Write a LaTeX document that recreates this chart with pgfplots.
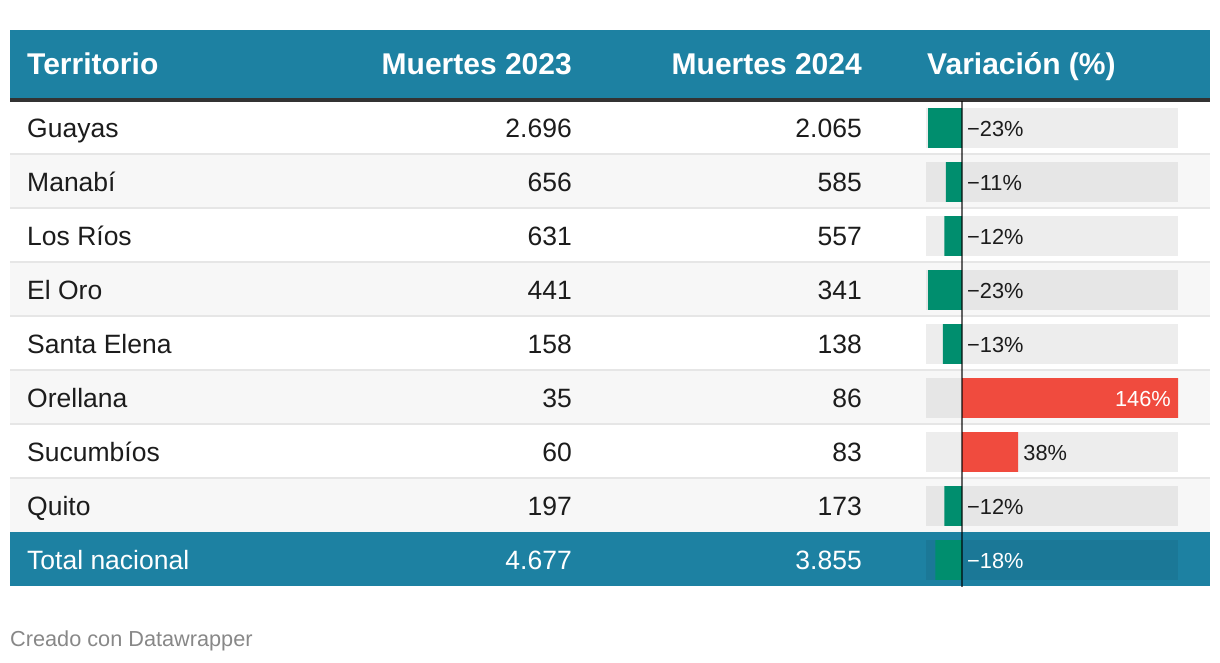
\documentclass[border=0pt]{standalone}
\usepackage{pgfplots}
\pgfplotsset{compat=1.18}
\usepackage{fontspec}
\setmainfont{Liberation Sans}
\definecolor{hdr}{HTML}{1D81A2}
\definecolor{totbg}{HTML}{1B7897}
\definecolor{dwgreen}{HTML}{008E6E}
\definecolor{dwred}{HTML}{F04B3E}
\definecolor{stripe}{HTML}{F7F7F7}
\definecolor{sep}{HTML}{E6E6E6}
\definecolor{bgw}{HTML}{EDEDED}
\definecolor{bgs}{HTML}{E6E6E6}
\definecolor{txt}{HTML}{1C1C1C}
\definecolor{foot}{HTML}{888888}
\newcommand{\hfont}{\fontsize{30}{35}\selectfont\bfseries}
\newcommand{\bfont}{\fontsize{26.5}{31}\selectfont}
\newcommand{\lfont}{\fontsize{21.8}{26}\selectfont}
\newcommand{\ffont}{\fontsize{21.7}{26}\selectfont}
\begin{document}
\begin{tikzpicture}
\begin{axis}[at={(0pt,0pt)}, anchor=north west, scale only axis,
  width=1220pt, height=662pt, xmin=0, xmax=1220, ymin=0, ymax=662,
  y dir=reverse, axis lines=none, ticks=none, clip=false]
\fill[white] (axis cs:0,0) rectangle (axis cs:1220,662);
% header
\fill[hdr] (axis cs:10,30) rectangle (axis cs:1210,98);
\fill[black!80] (axis cs:10,98) rectangle (axis cs:1210,101.5);
% stripes
\fill[stripe] (axis cs:10,155) rectangle (axis cs:1210,209);
\fill[stripe] (axis cs:10,263) rectangle (axis cs:1210,317);
\fill[stripe] (axis cs:10,371) rectangle (axis cs:1210,425);
\fill[stripe] (axis cs:10,479) rectangle (axis cs:1210,533);
% separators
\fill[sep] (axis cs:10,153.3) rectangle (axis cs:1210,155.3);
\fill[sep] (axis cs:10,207.3) rectangle (axis cs:1210,209.3);
\fill[sep] (axis cs:10,261.3) rectangle (axis cs:1210,263.3);
\fill[sep] (axis cs:10,315.3) rectangle (axis cs:1210,317.3);
\fill[sep] (axis cs:10,369.3) rectangle (axis cs:1210,371.3);
\fill[sep] (axis cs:10,423.3) rectangle (axis cs:1210,425.3);
\fill[sep] (axis cs:10,477.3) rectangle (axis cs:1210,479.3);
% total row
\fill[hdr] (axis cs:10,532) rectangle (axis cs:1210,586);
% header text
\node[anchor=base west, inner sep=0, text=white, font=\hfont] at (axis cs:27,74) {Territorio};
\node[anchor=base east, inner sep=0, text=white, font=\hfont] at (axis cs:572,74) {Muertes 2023};
\node[anchor=base east, inner sep=0, text=white, font=\hfont] at (axis cs:862,74) {Muertes 2024};
\node[anchor=base west, inner sep=0, text=white, font=\hfont] at (axis cs:927,74) {Variación (\%)};
% body rows
\node[anchor=base west, inner sep=0, text=txt, font=\bfont] at (axis cs:27,137) {Guayas};
\node[anchor=base east, inner sep=0, text=txt, font=\bfont] at (axis cs:572,137) {2.696};
\node[anchor=base east, inner sep=0, text=txt, font=\bfont] at (axis cs:862,137) {2.065};
\node[anchor=base west, inner sep=0, text=txt, font=\bfont] at (axis cs:27,191) {Manabí};
\node[anchor=base east, inner sep=0, text=txt, font=\bfont] at (axis cs:572,191) {656};
\node[anchor=base east, inner sep=0, text=txt, font=\bfont] at (axis cs:862,191) {585};
\node[anchor=base west, inner sep=0, text=txt, font=\bfont] at (axis cs:27,245) {Los Ríos};
\node[anchor=base east, inner sep=0, text=txt, font=\bfont] at (axis cs:572,245) {631};
\node[anchor=base east, inner sep=0, text=txt, font=\bfont] at (axis cs:862,245) {557};
\node[anchor=base west, inner sep=0, text=txt, font=\bfont] at (axis cs:27,299) {El Oro};
\node[anchor=base east, inner sep=0, text=txt, font=\bfont] at (axis cs:572,299) {441};
\node[anchor=base east, inner sep=0, text=txt, font=\bfont] at (axis cs:862,299) {341};
\node[anchor=base west, inner sep=0, text=txt, font=\bfont] at (axis cs:27,353) {Santa Elena};
\node[anchor=base east, inner sep=0, text=txt, font=\bfont] at (axis cs:572,353) {158};
\node[anchor=base east, inner sep=0, text=txt, font=\bfont] at (axis cs:862,353) {138};
\node[anchor=base west, inner sep=0, text=txt, font=\bfont] at (axis cs:27,407) {Orellana};
\node[anchor=base east, inner sep=0, text=txt, font=\bfont] at (axis cs:572,407) {35};
\node[anchor=base east, inner sep=0, text=txt, font=\bfont] at (axis cs:862,407) {86};
\node[anchor=base west, inner sep=0, text=txt, font=\bfont] at (axis cs:27,461) {Sucumbíos};
\node[anchor=base east, inner sep=0, text=txt, font=\bfont] at (axis cs:572,461) {60};
\node[anchor=base east, inner sep=0, text=txt, font=\bfont] at (axis cs:862,461) {83};
\node[anchor=base west, inner sep=0, text=txt, font=\bfont] at (axis cs:27,515) {Quito};
\node[anchor=base east, inner sep=0, text=txt, font=\bfont] at (axis cs:572,515) {197};
\node[anchor=base east, inner sep=0, text=txt, font=\bfont] at (axis cs:862,515) {173};
\node[anchor=base west, inner sep=0, text=white, font=\bfont] at (axis cs:27,569) {Total nacional};
\node[anchor=base east, inner sep=0, text=white, font=\bfont] at (axis cs:572,569) {4.677};
\node[anchor=base east, inner sep=0, text=white, font=\bfont] at (axis cs:862,569) {3.855};
% footer
\node[anchor=base west, inner sep=0, text=foot, font=\ffont] at (axis cs:10,646) {Creado con Datawrapper};
\end{axis}
\begin{axis}[at={(926pt,-101pt)}, anchor=north west, scale only axis,
  width=252pt, height=486pt, xmin=-24.35, xmax=146, ymin=-0.5, ymax=8.5,
  y dir=reverse, axis lines=none, ticks=none, clip=false,
  xbar, bar width=0.74, bar shift=0pt]
\fill[bgw] (axis cs:-24.35,-0.37) rectangle (axis cs:146,0.37);
\fill[bgs] (axis cs:-24.35,0.63) rectangle (axis cs:146,1.37);
\fill[bgw] (axis cs:-24.35,1.63) rectangle (axis cs:146,2.37);
\fill[bgs] (axis cs:-24.35,2.63) rectangle (axis cs:146,3.37);
\fill[bgw] (axis cs:-24.35,3.63) rectangle (axis cs:146,4.37);
\fill[bgs] (axis cs:-24.35,4.63) rectangle (axis cs:146,5.37);
\fill[bgw] (axis cs:-24.35,5.63) rectangle (axis cs:146,6.37);
\fill[bgs] (axis cs:-24.35,6.63) rectangle (axis cs:146,7.37);
\fill[totbg] (axis cs:-24.35,7.63) rectangle (axis cs:146,8.37);
\addplot[fill=dwgreen, draw=none] coordinates {(-23,0) (-11,1) (-12,2) (-23,3) (-13,4) (-12,7) (-18,8)};
\addplot[fill=dwred, draw=none] coordinates {(146,5) (38,6)};
\draw[black, opacity=0.6, line width=1.3pt] (axis cs:0,-0.5) -- (axis cs:0,8.5);
\node[anchor=base west, inner sep=0, xshift=5pt, yshift=-8pt, text=txt, font=\lfont] at (axis cs:0,0) {−23\%};
\node[anchor=base west, inner sep=0, xshift=5pt, yshift=-8pt, text=txt, font=\lfont] at (axis cs:0,1) {−11\%};
\node[anchor=base west, inner sep=0, xshift=5pt, yshift=-8pt, text=txt, font=\lfont] at (axis cs:0,2) {−12\%};
\node[anchor=base west, inner sep=0, xshift=5pt, yshift=-8pt, text=txt, font=\lfont] at (axis cs:0,3) {−23\%};
\node[anchor=base west, inner sep=0, xshift=5pt, yshift=-8pt, text=txt, font=\lfont] at (axis cs:0,4) {−13\%};
\node[anchor=base east, inner sep=0, xshift=-7pt, yshift=-8pt, text=white, font=\lfont] at (axis cs:146,5) {146\%};
\node[anchor=base west, inner sep=0, xshift=5pt, yshift=-8pt, text=txt, font=\lfont] at (axis cs:38,6) {38\%};
\node[anchor=base west, inner sep=0, xshift=5pt, yshift=-8pt, text=txt, font=\lfont] at (axis cs:0,7) {−12\%};
\node[anchor=base west, inner sep=0, xshift=5pt, yshift=-8pt, text=white, font=\lfont] at (axis cs:0,8) {−18\%};
\end{axis}
\end{tikzpicture}
\end{document}
